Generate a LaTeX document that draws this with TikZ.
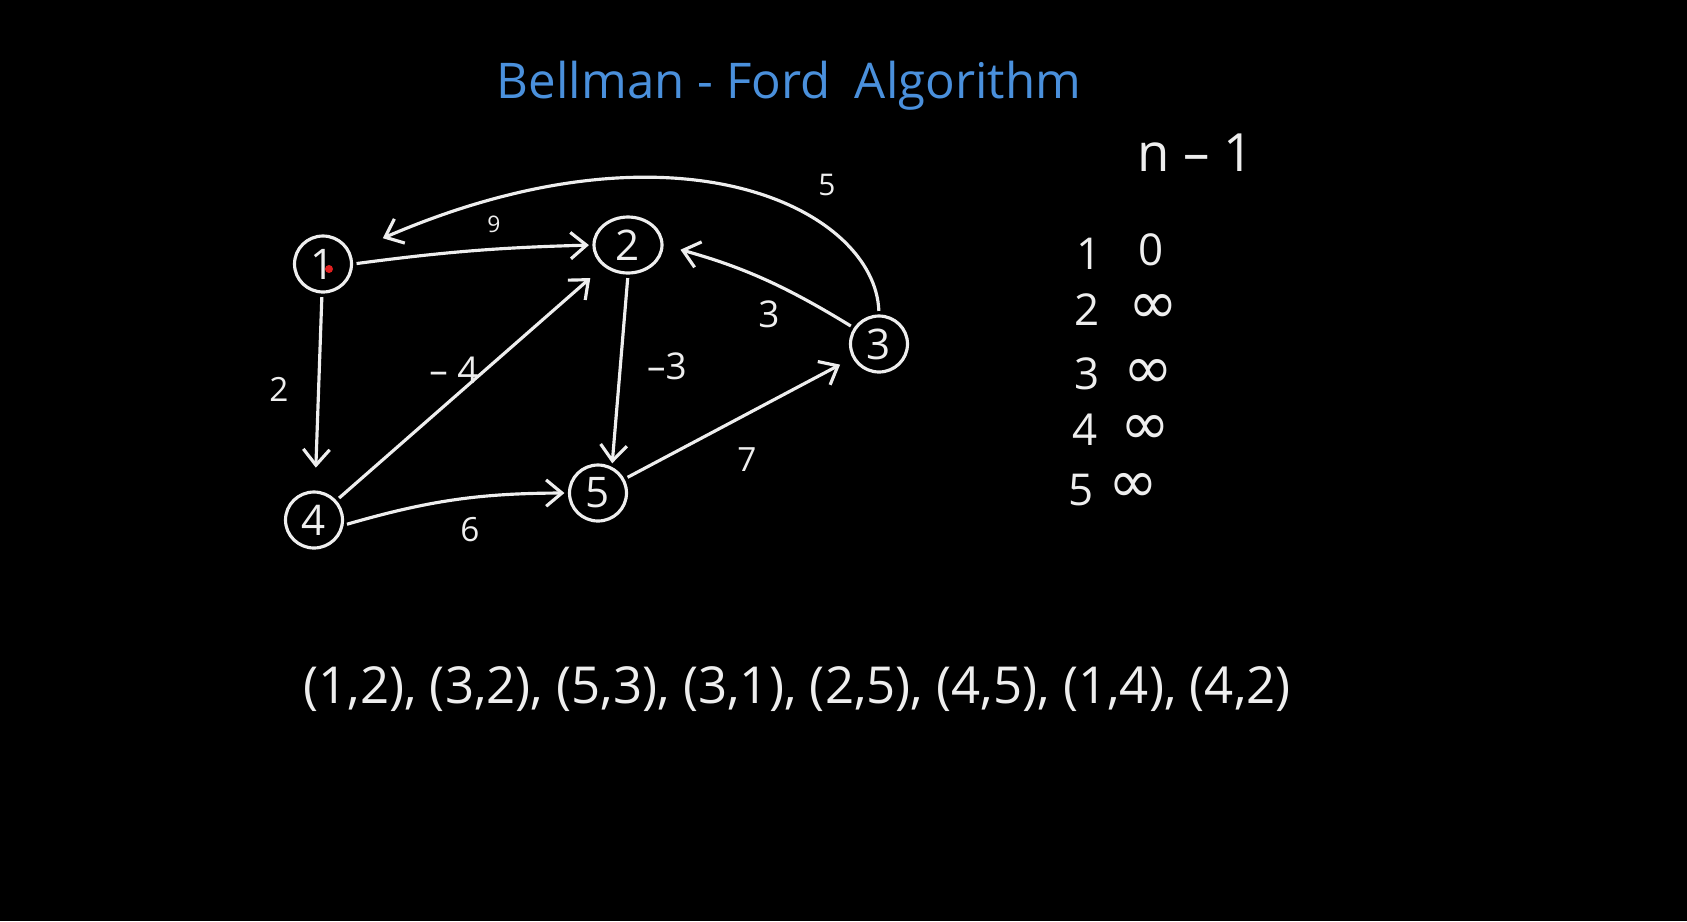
\documentclass[tikz,border=0pt]{standalone}
\usepackage{fontspec}
\setmainfont{Open Sans}
\newfontfamily\symfont{DejaVu Sans}
\usetikzlibrary{arrows.meta,shapes.geometric}
\definecolor{chalk}{HTML}{EEEEEE}
\definecolor{penblue}{HTML}{4A90DC}
\definecolor{laser}{HTML}{E02020}

\begin{document}
\begin{tikzpicture}[
  x=0.02cm, y=0.02cm,
  vertex/.style={draw=chalk,ellipse,line width=1.8pt,minimum width=#1,
    minimum height=1.12cm,inner sep=0pt,text=chalk,font=\fontsize{24}{24}\selectfont},
  vertex/.default=1.14cm,
  weight/.style={text=chalk,font=\fontsize{#1}{#1}\selectfont},
  weight/.default=19,
  dist/.style={text=chalk,font=\symfont\fontsize{34}{34}\selectfont},
  edge/.style={draw=chalk,line width=1.8pt,-{Straight Barb[length=9pt,width=15pt]},
    shorten >=2pt,shorten <=2pt},
]
  \fill[black] (0,0) rectangle (1687,-921);

  % heading
  \node[text=penblue,font=\fontsize{28}{28}\selectfont] (title) at (789,-86) {Bellman - Ford\enspace Algorithm};
  \node[weight=30] (iter) at (1196,-153) {n – 1};

  % graph
  \node[vertex] (n1) at (323,-264) {1};
  \node[vertex=1.36cm] (n2) at (628,-245) {2};
  \node[vertex] (n3) at (879,-344) {3};
  \node[vertex] (n4) at (314,-520) {4};
  \node[vertex] (n5) at (598,-493) {5};
  \fill[laser] (329,-269) circle (4);

  \draw[edge] (n1.east) to[bend left=3] (n2.west);
  \draw[edge,shorten >=20pt] (n3.north) .. controls (875,-210) and (680,-110) .. (n1);
  \draw[edge,shorten >=10pt] (n3) to[bend right=8] (n2.east);
  \draw[edge,shorten >=13pt] (n1) -- (n4);
  \draw[edge,shorten >=10pt] (n4) -- (n2);
  \draw[edge] (n2.south) -- (n5.62);
  \draw[edge,shorten >=8pt] (n5) -- (n3);
  \draw[edge] (n4.-10) to[bend left=8] (n5.west);

  \node[weight=13] (w12) at (494,-224) {9};
  \node[weight=17] (w31) at (827,-185) {5};
  \node[weight=21] (w32) at (769,-314) {3};
  \node[weight] (w14) at (279,-389) {2};
  \node[weight=21] (w42) at (454,-370) {– 4};
  \node[weight=21] (w25) at (667,-366) {–3};
  \node[weight] (w53) at (747,-460) {7};
  \node[weight] (w45) at (470,-530) {6};

  % distance table
  \node[weight=25] (v1) at (1089,-254) {1};
  \node[weight=25] (d1) at (1151,-250) {0};
  \node[weight=25] (v2) at (1087,-310) {2};
  \node[dist] (d2) at (1153,-309) {∞};
  \node[weight=25] (v3) at (1087,-374) {3};
  \node[dist] (d3) at (1148,-374) {∞};
  \node[weight=25] (v4) at (1085,-430) {4};
  \node[dist] (d4) at (1145,-430) {∞};
  \node[weight=25] (v5) at (1081,-490) {5};
  \node[dist] (d5) at (1133,-488) {∞};

  % edge order
  \node[weight=29] (order) at (797,-689) {(1,2), (3,2), (5,3), (3,1), (2,5), (4,5), (1,4), (4,2)};
\end{tikzpicture}
\end{document}
